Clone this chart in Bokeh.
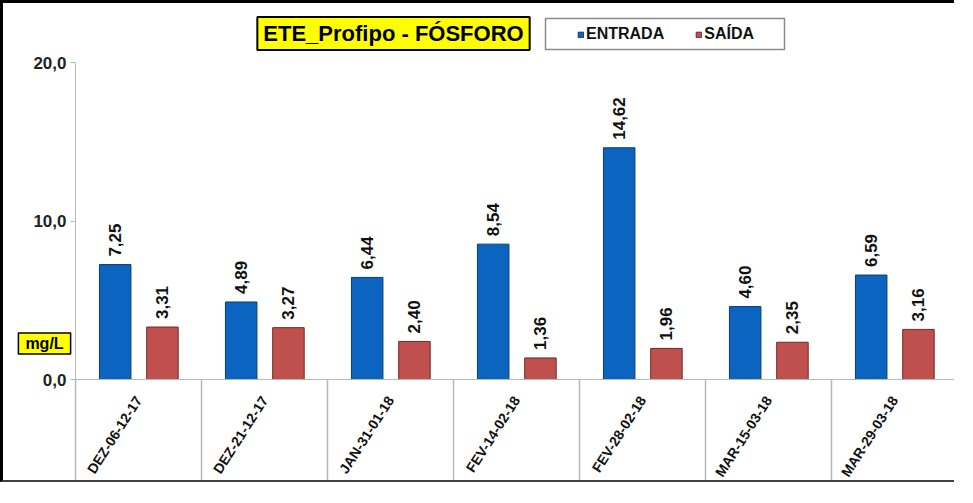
import math
from bokeh.plotting import figure
from bokeh.models import (ColumnDataSource, Range1d, FixedTicker, LinearAxis,
                          LabelSet, Label, Legend, LegendItem, BoxAnnotation)
from bokeh.core.properties import value
from bokeh.transform import dodge
from bokeh.embed import file_html
from bokeh.resources import INLINE

# ---- data ----
categories = ["DEZ-06-12-17", "DEZ-21-12-17", "JAN-31-01-18", "FEV-14-02-18",
              "FEV-28-02-18", "MAR-15-03-18", "MAR-29-03-18"]
entrada = [7.25, 4.89, 6.44, 8.54, 14.62, 4.60, 6.59]
saida = [3.31, 3.27, 2.40, 1.36, 1.96, 2.35, 3.16]
y_ticks = [0, 10, 20]
y_tick_labels = ["0,0", "10,0", "20,0"]
title_text = "ETE_Profipo - FÓSFORO"
unit_text = "mg/L"
series_names = ["ENTRADA", "SAÍDA"]

FONT = "Liberation Sans"
BLUE = "#0B64BF"
RED = "#C0504D"
GRID = "#b8b8b8"

W, H = 954, 482            # canvas size (inside the css border)
PLOT_LEFT, PLOT_TOP, PLOT_BOTTOM = 72, 59, 376   # pixel positions of the value area
n = len(categories)
px_per_cat = (W - PLOT_LEFT) / n
px_per_unit = (PLOT_BOTTOM - PLOT_TOP) / y_ticks[-1]


def fmt(v):
    return f"{v:.2f}".replace(".", ",")


centers = [i + 0.5 for i in range(n)]
src = ColumnDataSource(dict(
    xc=centers,
    cat=categories,
    entrada=entrada,
    saida=saida,
    entrada_txt=[fmt(v) for v in entrada],
    saida_txt=[fmt(v) for v in saida],
))
sep_src = ColumnDataSource(dict(xb=list(range(n + 1))))

y_lo = -(H - PLOT_BOTTOM) / px_per_unit
y_hi = y_ticks[-1] + PLOT_TOP / px_per_unit
x_lo = -PLOT_LEFT / px_per_cat

p = figure(x_range=Range1d(x_lo, n), y_range=Range1d(y_lo, y_hi),
           width=W, height=H, output_backend="svg", toolbar_location=None,
           x_axis_type=None, y_axis_type=None,
           min_border=0, min_border_left=0, min_border_right=0,
           min_border_top=0, min_border_bottom=0,
           outline_line_color=None,
           styles={"border-left": "3px solid black", "border-top": "3px solid black",
                   "border-bottom": "2px solid #404040"})
p.xgrid.grid_line_color = None
p.ygrid.grid_line_color = None

# category separators below the axis
p.segment(x0="xb", y0=0, x1="xb", y1=y_lo, source=sep_src, line_color=GRID, line_width=1.5)

r_in = p.vbar(x=dodge("xc", -0.185), top="entrada", width=0.25, source=src,
              fill_color=BLUE, line_color="#0a3a78", line_width=1)
r_out = p.vbar(x=dodge("xc", 0.19), top="saida", width=0.25, source=src,
               fill_color=RED, line_color="#6e2a28", line_width=1)

for col, off in (("entrada", -0.185), ("saida", 0.19)):
    p.add_layout(LabelSet(x=dodge("xc", off), y=col, text=col + "_txt",
                          source=src, angle=math.pi / 2, y_offset=8,
                          text_align="left", text_baseline="middle",
                          text_font=value(FONT), text_font_style="bold",
                          text_font_size="17px", text_color="#111111"))

# y axis
ya = LinearAxis(fixed_location=0, bounds=(0, y_ticks[-1]),
                ticker=FixedTicker(ticks=y_ticks),
                major_label_overrides=dict(zip(y_ticks, y_tick_labels)),
                minor_tick_line_color=None, major_tick_in=0, major_tick_out=5,
                axis_line_color=GRID, major_tick_line_color=GRID,
                major_label_text_font=FONT, major_label_text_font_style="bold",
                major_label_text_font_size="17px", major_label_text_color="#222222",
                major_label_standoff=4)
p.add_layout(ya, "left")

# x axis (category labels)
xa = LinearAxis(fixed_location=0, bounds=(0, n),
                ticker=FixedTicker(ticks=centers),
                major_label_overrides=dict(zip(centers, categories)),
                major_label_orientation=1.0,
                major_tick_line_color=None, minor_tick_line_color=None,
                axis_line_color=GRID,
                major_label_text_font=FONT, major_label_text_font_style="bold",
                major_label_text_font_size="14px", major_label_text_color="#111111",
                major_label_standoff=12)
p.add_layout(xa, "below")

# title box
p.add_layout(Label(x=390, y=H - 30, x_units="screen", y_units="screen", text=title_text,
                   text_align="center", text_baseline="middle",
                   text_font=FONT, text_font_style="bold", text_font_size="22px",
                   text_color="black", background_fill_color="#FFFF00",
                   border_line_color="black", border_line_width=2, padding=(6, 4)))

# unit box
p.add_layout(Label(x=41, y=H - 340, x_units="screen", y_units="screen", text=unit_text,
                   text_align="center", text_baseline="middle",
                   text_font=FONT, text_font_style="bold", text_font_size="16px",
                   text_color="black", background_fill_color="#FFFF00",
                   border_line_color="black", border_line_width=1.5, padding=(7, 2)))

# legend box + legend
p.add_layout(BoxAnnotation(left=542, right=781, bottom=H - 46, top=H - 15,
                           left_units="screen", right_units="screen",
                           bottom_units="screen", top_units="screen",
                           fill_color="white", fill_alpha=1,
                           line_color="#8a8a8a", line_width=1.5, line_alpha=1))
legend = Legend(items=[LegendItem(label=series_names[0], renderers=[r_in]),
                       LegendItem(label=series_names[1], renderers=[r_out])],
                location=(574, H - 41), orientation="horizontal",
                padding=0, margin=0, spacing=31, label_standoff=2,
                glyph_width=7, glyph_height=7, label_height=20,
                label_text_font=FONT, label_text_font_style="bold",
                label_text_font_size="16px", label_text_color="#111111",
                background_fill_alpha=0, border_line_color=None)
p.add_layout(legend, "center")

open("out.html", "w").write(file_html(p, INLINE))
